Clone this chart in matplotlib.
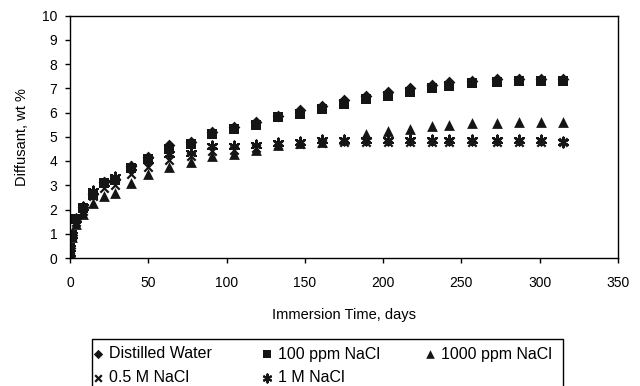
import matplotlib
matplotlib.use("Agg")
import matplotlib.pyplot as plt
from matplotlib.patches import Rectangle

# data
days = [0, 0.3, 1, 4, 8, 15, 22, 29, 39, 50, 63, 77, 91, 105, 119, 133, 147,
        161, 175, 189, 203, 217, 231, 242, 257, 273, 287, 301, 315]
distilled = [0, 0.4, 0.95, 1.6, 2.1, 2.65, 3.15, 3.25, 3.8, 4.15, 4.65, 4.8, 5.2,
             5.4, 5.6, 5.85, 6.1, 6.25, 6.5, 6.7, 6.85, 7.0, 7.15, 7.25, 7.3,
             7.38, 7.4, 7.4, 7.4]
ppm100 = [0, 0.4, 0.95, 1.6, 2.05, 2.6, 3.1, 3.2, 3.7, 4.1, 4.5, 4.7, 5.1,
          5.3, 5.5, 5.8, 5.95, 6.15, 6.35, 6.55, 6.7, 6.85, 7.0, 7.1, 7.2,
          7.25, 7.28, 7.28, 7.28]
ppm1000 = [0, 0.3, 0.85, 1.4, 1.8, 2.25, 2.55, 2.7, 3.1, 3.45, 3.75, 3.95, 4.2,
           4.3, 4.45, 4.65, 4.75, 4.8, 4.9, 5.1, 5.25, 5.3, 5.45, 5.5, 5.55,
           5.57, 5.6, 5.6, 5.6]
m05 = [0, 0.35, 0.9, 1.5, 1.95, 2.55, 2.9, 3.0, 3.45, 3.75, 4.05, 4.2, 4.4,
       4.45, 4.55, 4.65, 4.7, 4.75, 4.8, 4.8, 4.8, 4.8, 4.8, 4.8, 4.8,
       4.8, 4.8, 4.8, 4.8]
m1 = [0, 0.4, 0.95, 1.6, 2.1, 2.75, 3.1, 3.35, 3.75, 4.05, 4.3, 4.35, 4.6,
      4.6, 4.65, 4.75, 4.8, 4.85, 4.85, 4.85, 4.85, 4.85, 4.85, 4.85, 4.85,
      4.85, 4.85, 4.85, 4.8]

labels = ["Distilled Water", "100 ppm NaCl", "1000 ppm NaCl", "0.5 M NaCl", "1 M NaCl"]

plt.rcParams["font.family"] = ["Liberation Sans", "DejaVu Sans"]

W, H = 640, 386
fig = plt.figure(figsize=(6.4, 3.86), dpi=100)
ax = fig.add_axes([70 / W, 1 - 258 / H, 548 / W, 242.5 / H])

k = "#151515"
h_dw = ax.scatter(days, distilled, marker="D", s=36, color=k, linewidths=0)
h_100 = ax.scatter(days, ppm100, marker="s", s=50, color=k, linewidths=0)
h_1000 = ax.scatter(days, ppm1000, marker="^", s=60, color=k, linewidths=0)
h_05 = ax.scatter(days, m05, marker="x", s=36, color=k, linewidths=1.6)
h_1 = ax.scatter(days, m1, marker=(6, 2, 0), s=50, color=k, linewidths=1.6)

ax.set_xlim(0, 350)
ax.set_ylim(0, 10)
ax.set_xticks(range(0, 351, 50))
ax.set_yticks(range(0, 11))
ax.tick_params(direction="out", length=3.6, width=1, labelsize=10, colors="black")
ax.tick_params(axis="x", pad=9.5)
ax.tick_params(axis="y", pad=5.5)
for s in ax.spines.values():
    s.set_linewidth(1)
    s.set_color("black")

ax.set_xlabel("Immersion Time, days", fontsize=10.5, labelpad=13)
ax.set_ylabel("Diffusant, wt %", fontsize=10.5, labelpad=9)

# legend: frame drawn by hand, three columns placed like the reference
fig.add_artist(Rectangle((92 / W, -0.01), 471 / W, 1 - 339 / H + 0.01,
                         transform=fig.transFigure, fill=False,
                         edgecolor="black", linewidth=1))
cols = [([h_dw, h_05], [labels[0], labels[3]], 98),
        ([h_100, h_1], [labels[1], labels[4]], 267),
        ([h_1000], [labels[2]], 430)]
for hs, ls, xc in cols:
    fig.legend(hs, ls, loc="upper left",
               bbox_to_anchor=((xc - 5.5) / W, 1 - 346.5 / H),
               fontsize=11.5, frameon=False, borderpad=0, borderaxespad=0,
               handlelength=0.68, handletextpad=0.33, labelspacing=0.55,
               markerscale=0.8)

fig.savefig("out.png", dpi=100)
